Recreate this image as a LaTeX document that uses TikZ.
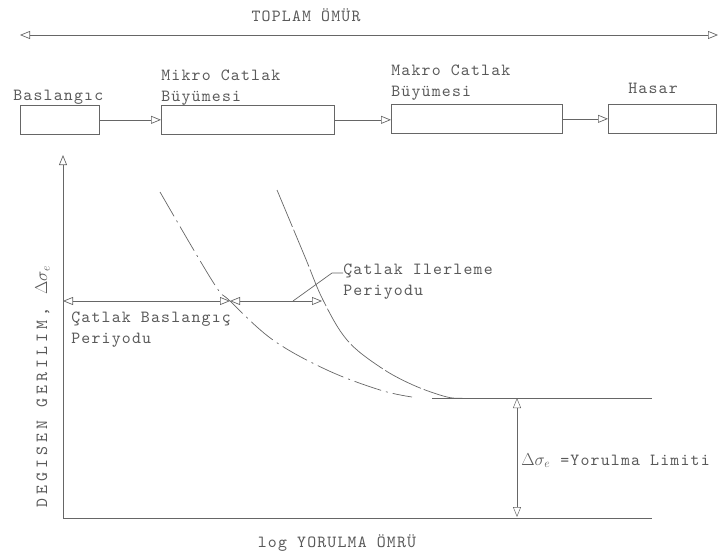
\documentclass[tikz,border=0pt]{standalone}
\usepackage{fontspec}
\newfontfamily\cadfont{lmmono10-regular}[Extension=.otf, LetterSpace=7]
\newfontfamily\cadwide{lmmono10-regular}[Extension=.otf, LetterSpace=24]
\usetikzlibrary{positioning, arrows.meta}

\begin{document}
\begin{tikzpicture}[
    x=1pt, y=-1pt,
    color=black!60, line width=0.7pt,
    font=\cadfont\fontsize{17}{21}\selectfont,
    >={Triangle[open, length=10pt, width=8pt]},
    blk/.style={draw, minimum width=#1, minimum height=29pt, inner sep=0pt},
    lbl/.style={inner sep=0pt, align=left, text=black!65},
    flow/.style={->},
    dim/.style={<->},
    cinit/.style={dash pattern=on 28pt off 5pt on 2pt off 5pt},
    cprop/.style={dash pattern=on 40pt off 3pt},
  ]
    \useasboundingbox (0,0) rectangle (719,559);
    % total life
    \node[lbl, anchor=base] (tot) at (306,22) {TOPLAM ÖMÜR};
    \coordinate (tl) at (20,35);
    \coordinate (tr) at (718,35);
    \draw[dim] (tl) -- (tr);
    % stages
    \node[blk=79pt,  anchor=north west] (bas) at (20,105)  {};
    \node[blk=173pt, anchor=north west] (mik) at (161,105) {};
    \node[blk=171pt, anchor=north west] (mak) at (391,104) {};
    \node[blk=108pt, anchor=north west] (has) at (608,104) {};
    \node[lbl, anchor=base west] (basl) at (13,100) {Baslangıc};
    \node[lbl, anchor=south west] (mikl) at (161,106) {Mikro Catlak\\Büyümesi};
    \node[lbl, anchor=south west] (makl) at (391,101) {Makro Catlak\\Büyümesi};
    \node[lbl, anchor=base] (hasl) at (653,94) {Hasar};
    \draw[flow] (bas) -- (mik);
    \draw[flow] (mik.east) -- (mik.east -| mak.west);
    \draw[flow] (mak) -- (has);
    % axes
    \coordinate (o)    at (63,518);
    \coordinate (ytop) at (63,155);
    \coordinate (xend) at (652,518);
    \draw[->] (o) -- (ytop);
    \draw (o) -- (xend);
    \node[lbl, anchor=base] (xl) at (337,547) {log YORULMA ÖMRÜ};
    \node[lbl, rotate=90, anchor=base west, font=\cadwide\fontsize{17}{21}\selectfont]
      (yl) at (47,508) {DEGISEN GERILIM, $\Delta\sigma_e$};
    % curves
    \draw[cinit] plot[smooth, tension=0.6] coordinates
      {(160,192) (213,282) (230,301) (273,340) (327,370) (380,390) (412,397)};
    \draw[cprop] plot[smooth, tension=0.6] coordinates
      {(277,190) (305,257) (323,300) (347,340) (380,367) (413,385) (447,397) (465,398)};
    % fatigue limit
    \coordinate (lim0) at (432,398);
    \coordinate (lim1) at (652,398);
    \coordinate (lima) at (517,398);
    \coordinate (limb) at (517,517);
    \draw (lim0) -- (lim1);
    \draw[dim, line width=0.5pt] (lima) -- (limb);
    \node[lbl, anchor=base west] (liml) at (521,465) {$\Delta\sigma_e$ =Yorulma Limiti};
    % periods
    \coordinate (ci)  at (63,301);
    \coordinate (mid) at (230,301);
    \coordinate (cp)  at (322,301);
    \coordinate (ld)  at (293,301);
    \draw[dim] (ci) -- (mid);
    \draw[dim] (mid) -- (cp);
    \node[lbl, anchor=north west] (bsp) at (71,312) {Çatlak Baslangıç\\Periyodu};
    \node[lbl, anchor=north west] (ilr) at (343,264) {Çatlak Ilerleme\\Periyodu};
    \draw (ld) -- ++(39,-28) -- (ilr.north west |- 0,273);
\end{tikzpicture}
\end{document}
